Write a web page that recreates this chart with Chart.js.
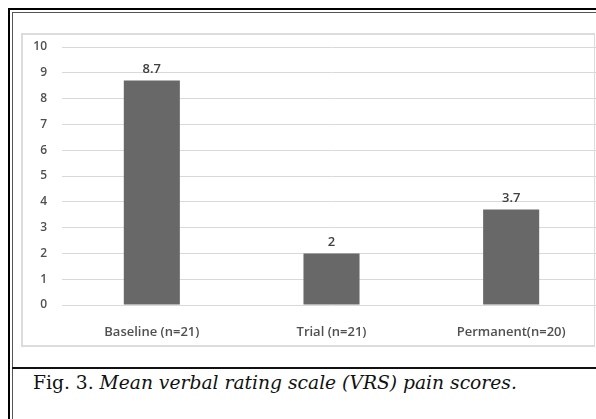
<!DOCTYPE html>
<html>
<head>
<meta charset="utf-8">
<script src="https://cdn.jsdelivr.net/npm/chart.js@4"></script>
<style>
  html, body { margin: 0; padding: 0; background: #fff; overflow: hidden; }
  .page { position: relative; width: 596px; height: 419px; overflow: hidden; background: #fff; }
  .frame-thick-top { position: absolute; left: 8px; top: 8px; width: 588px; height: 2px; background: #000; }
  .frame-thin-top { position: absolute; left: 12px; top: 12px; width: 584px; height: 1px; background: #555; }
  .frame-thick-left { position: absolute; left: 8px; top: 8px; width: 2px; height: 411px; background: #000; }
  .frame-thin-left { position: absolute; left: 12px; top: 12px; width: 1px; height: 407px; background: #555; }
  .sep { position: absolute; left: 12px; top: 367px; width: 584px; height: 2px; background: #111; }
  .box { position: absolute; left: 21px; top: 33px; width: 571px; height: 310px; border: 2px solid #dcdcdc; border-right-width: 1px; }
  canvas { position: absolute; left: 0; top: 0; }
  .caption { position: absolute; left: 33px; top: 369px; font-family: "DejaVu Serif", "Liberation Serif", serif; font-size: 18.7px; color: #111; white-space: nowrap; line-height: 28px; }
  .caption i { font-style: italic; }
</style>
</head>
<body>
<div class="page">
<div class="frame-thick-top"></div>
<div class="frame-thin-top"></div>
<div class="frame-thick-left"></div>
<div class="frame-thin-left"></div>
<div class="box"><canvas id="bar-chart" width="600" height="308"></canvas></div>
<div class="sep"></div>
<div class="caption">Fig. 3. <i>Mean verbal rating scale (VRS) pain scores.</i></div>
</div>
<script>
var categories = ['Baseline (n=21)', 'Trial (n=21)', 'Permanent(n=20)']
var meanScores = [8.7, 2, 3.7]
var valueLabels = ['8.7', '2', '3.7']
var tickValues = [0, 1, 2, 3, 4, 5, 6, 7, 8, 9, 10]

// draws the number above each bar
var barValues = {
    id: 'barValues',
    afterDatasetsDraw: function(chart) {
        var ctx = chart.ctx
        var meta = chart.getDatasetMeta(0)
        ctx.save()
        ctx.font = '600 13px "Open Sans"'
        ctx.fillStyle = '#404040'
        ctx.textAlign = 'center'
        ctx.textBaseline = 'bottom'
        meta.data.forEach(function(bar, i) {
            ctx.fillText(valueLabels[i], bar.x, bar.y - 5)
        })
        ctx.restore()
    }
}

function createGraph() {
    var ctx = document.getElementById('bar-chart').getContext('2d')
    new Chart(ctx, {
        type: 'bar',
        data: {
            labels: categories,
            datasets: [{
                label: 'Mean VRS',
                data: meanScores,
                backgroundColor: '#686868',
                borderWidth: 0,
                categoryPercentage: 1,
                barPercentage: 0.312
            }]
        },
        options: {
            responsive: false,
            animation: false,
            layout: { padding: { top: 12, right: 22, bottom: 0, left: 0 } },
            plugins: { legend: { display: false }, tooltip: { enabled: false } },
            scales: {
                x: {
                    grid: { display: false },
                    border: { display: false },
                    ticks: { color: '#505050', font: { family: 'Open Sans', size: 13, weight: '600' }, padding: 11 },
                    afterFit: function(scale) { scale.height = 38 }
                },
                y: {
                    min: 0,
                    max: 10,
                    afterBuildTicks: function(scale) {
                        scale.ticks = tickValues.map(function(v) { return { value: v } })
                    },
                    grid: { color: '#d9d9d9', lineWidth: 1, drawTicks: false },
                    border: { display: false },
                    ticks: { color: '#505050', font: { family: 'Open Sans', size: 12, weight: '600' }, padding: 15 },
                    afterFit: function(scale) {
                        scale.width = 39
                        scale.paddingTop = 0
                        scale.paddingBottom = 0
                    }
                }
            }
        },
        plugins: [barValues]
    })
}
createGraph()
</script>
</body>
</html>
